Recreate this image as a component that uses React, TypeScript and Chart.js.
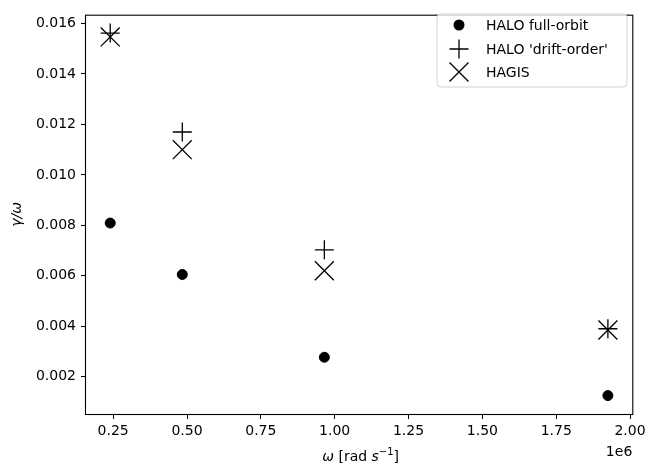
import React, { useEffect, useRef } from "react";
import { Chart, registerables } from "chart.js";

Chart.register(...registerables);

const omega = [0.240e6, 0.484e6, 0.965e6, 1.925e6];
const haloFullOrbit = [0.00809, 0.00605, 0.00277, 0.00125];
const haloDriftOrder = [0.01562, 0.0117, 0.00703, 0.0039];
const hagis = [0.01547, 0.011, 0.0062, 0.00385];
const seriesLabels = ["HALO full-orbit", "HALO 'drift-order'", "HAGIS"];
const xTicks = [0.25e6, 0.5e6, 0.75e6, 1.0e6, 1.25e6, 1.5e6, 1.75e6, 2.0e6];
const yTicks = [0.002, 0.004, 0.006, 0.008, 0.01, 0.012, 0.014, 0.016];

const FONT = "'DejaVu Sans', sans-serif";
const AREA = { left: 86, top: 5, right: 635, bottom: 414 };

const framePlugin = {
  id: "frameAndText",
  afterDraw(chart: any) {
    const { ctx, chartArea } = chart;
    const { left, right, top, bottom } = chartArea;
    ctx.save();
    ctx.strokeStyle = "#000";
    ctx.lineWidth = 1.1;
    ctx.strokeRect(left - 0.5, top + 0.5, right - left, bottom - top);

    ctx.fillStyle = "#000";
    ctx.font = `14px ${FONT}`;
    ctx.textAlign = "right";
    ctx.textBaseline = "alphabetic";
    ctx.fillText("1e6", right - 1, 456);

    const segs = [
      { t: "ω", f: `italic 14px ${FONT}`, dy: 0 },
      { t: " [rad ", f: `14px ${FONT}`, dy: 0 },
      { t: "s", f: `italic 14px ${FONT}`, dy: 0 },
      { t: "−1", f: `10px ${FONT}`, dy: -6 },
      { t: "]", f: `14px ${FONT}`, dy: 0 },
    ];
    let total = 0;
    for (const s of segs) {
      ctx.font = s.f;
      total += ctx.measureText(s.t).width;
    }
    let x = (left + right) / 2 - total / 2 + 1;
    ctx.textAlign = "left";
    for (const s of segs) {
      ctx.font = s.f;
      ctx.fillText(s.t, x, 461 + s.dy);
      x += ctx.measureText(s.t).width;
    }

    ctx.save();
    ctx.translate(21, (top + bottom) / 2);
    ctx.rotate(-Math.PI / 2);
    ctx.font = `italic 14px ${FONT}`;
    ctx.textAlign = "center";
    ctx.textBaseline = "alphabetic";
    ctx.fillText("γ/ω", 0, 0);
    ctx.restore();

    const bx = 437, by = 14, bw = 190, bh = 73, r = 4;
    ctx.beginPath();
    ctx.moveTo(bx + r, by);
    ctx.lineTo(bx + bw - r, by);
    ctx.quadraticCurveTo(bx + bw, by, bx + bw, by + r);
    ctx.lineTo(bx + bw, by + bh - r);
    ctx.quadraticCurveTo(bx + bw, by + bh, bx + bw - r, by + bh);
    ctx.lineTo(bx + r, by + bh);
    ctx.quadraticCurveTo(bx, by + bh, bx, by + bh - r);
    ctx.lineTo(bx, by + r);
    ctx.quadraticCurveTo(bx, by, bx + r, by);
    ctx.closePath();
    ctx.fillStyle = "rgba(255,255,255,0.8)";
    ctx.fill();
    ctx.strokeStyle = "#d0d0d0";
    ctx.lineWidth = 1;
    ctx.stroke();

    const rows = [25, 49, 72];
    const mx = 459;
    ctx.strokeStyle = "#000";
    ctx.fillStyle = "#000";
    ctx.beginPath();
    ctx.arc(mx, rows[0], 5.5, 0, Math.PI * 2);
    ctx.fill();
    ctx.lineWidth = 1.3;
    ctx.beginPath();
    ctx.moveTo(mx - 9.5, rows[1]);
    ctx.lineTo(mx + 9.5, rows[1]);
    ctx.moveTo(mx, rows[1] - 9.5);
    ctx.lineTo(mx, rows[1] + 9.5);
    ctx.stroke();
    ctx.beginPath();
    ctx.moveTo(mx - 9.5, rows[2] - 9.5);
    ctx.lineTo(mx + 9.5, rows[2] + 9.5);
    ctx.moveTo(mx + 9.5, rows[2] - 9.5);
    ctx.lineTo(mx - 9.5, rows[2] + 9.5);
    ctx.stroke();

    ctx.font = `14px ${FONT}`;
    ctx.textAlign = "left";
    ctx.textBaseline = "middle";
    seriesLabels.forEach((lab, i) => ctx.fillText(lab, 486, rows[i] + 1));
    ctx.restore();
  },
};

export default function App() {
  const ref = useRef<HTMLCanvasElement | null>(null);
  useEffect(() => {
    if (!ref.current) return;
    const mk = (ys: number[]) => omega.map((x, i) => ({ x, y: ys[i] }));
    const pad = { top: 5, right: 13, left: 0, bottom: 0 };
    const chart = new Chart(ref.current, {
      type: "scatter",
      data: {
        datasets: [
          {
            label: seriesLabels[0],
            data: mk(haloFullOrbit),
            pointStyle: "circle",
            pointRadius: 5,
            pointBorderWidth: 1,
            backgroundColor: "#000",
            borderColor: "#000",
          },
          {
            label: seriesLabels[1],
            data: mk(haloDriftOrder),
            pointStyle: "cross",
            pointRadius: 9.5,
            pointBorderWidth: 1.3,
            backgroundColor: "#000",
            borderColor: "#000",
          },
          {
            label: seriesLabels[2],
            data: mk(hagis),
            pointStyle: "crossRot",
            pointRadius: 13.4,
            pointBorderWidth: 1.3,
            backgroundColor: "#000",
            borderColor: "#000",
          },
        ],
      },
      plugins: [framePlugin],
      options: {
        responsive: false,
        animation: false,
        events: [],
        layout: { padding: pad },
        plugins: { legend: { display: false }, tooltip: { enabled: false } },
        scales: {
          x: {
            type: "linear",
            min: 0.158e6,
            max: 2.011e6,
            afterBuildTicks: (s: any) => {
              s.ticks = xTicks.map((v) => ({ value: v }));
            },
            afterFit: (s: any) => {
              s.height = 55;
              s.paddingLeft = 0;
              s.paddingRight = 0;
            },
            grid: {
              drawOnChartArea: false,
              drawTicks: true,
              tickLength: 5,
              color: "#000",
              lineWidth: 1,
            },
            border: { display: false },
            ticks: {
              color: "#000",
              font: { family: FONT, size: 14 },
              padding: 4,
              maxRotation: 0,
              autoSkip: false,
              callback: (v: any) => (Number(v) / 1e6).toFixed(2),
            },
          },
          y: {
            type: "linear",
            min: 0.00052,
            max: 0.01635,
            afterBuildTicks: (s: any) => {
              s.ticks = yTicks.map((v) => ({ value: v }));
            },
            afterFit: (s: any) => {
              s.width = 86;
              s.paddingTop = 0;
              s.paddingBottom = 0;
            },
            grid: {
              drawOnChartArea: false,
              drawTicks: true,
              tickLength: 5,
              color: "#000",
              lineWidth: 1,
            },
            border: { display: false },
            ticks: {
              color: "#000",
              font: { family: FONT, size: 14 },
              padding: 5,
              autoSkip: false,
              callback: (v: any) => Number(v).toFixed(3),
            },
          },
        },
      },
    } as any);
    // correct the plot area to the intended box
    for (let i = 0; i < 4; i++) {
      const ca = chart.chartArea;
      const dl = AREA.left - ca.left;
      const dt = AREA.top - ca.top;
      const dr = ca.right - AREA.right;
      const db = ca.bottom - AREA.bottom;
      if (Math.abs(dl) < 0.1 && Math.abs(dt) < 0.1 && Math.abs(dr) < 0.1 && Math.abs(db) < 0.1) break;
      pad.left += dl;
      pad.top += dt;
      pad.right += dr;
      pad.bottom += db;
      (chart.options as any).layout.padding = { ...pad };
      chart.update();
    }
    return () => chart.destroy();
  }, []);
  return (
    <div style={{ position: "fixed", left: 0, top: 0, width: 648, height: 469, background: "#fff" }}>
      <canvas ref={ref} width={648} height={469} style={{ width: 648, height: 469 }} />
    </div>
  );
}
